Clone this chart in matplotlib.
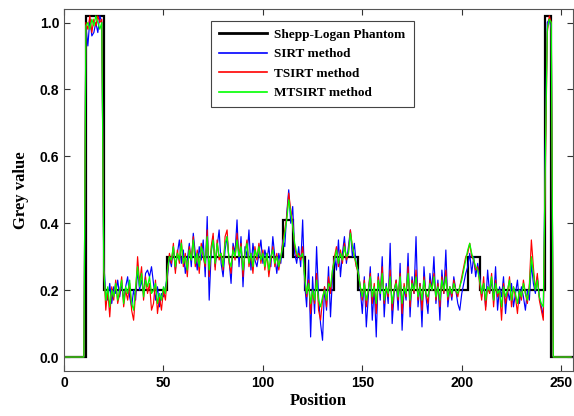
import numpy as np
import matplotlib
matplotlib.use("Agg")
import matplotlib.pyplot as plt

# Shepp-Logan phantom profile (step edges and levels)
phantom_edges = [0, 11, 20, 52, 110, 115, 121, 136, 148, 203, 209, 242, 245, 256]
phantom_levels = [0.0, 1.02, 0.2, 0.3, 0.41, 0.3, 0.2, 0.3, 0.2, 0.3, 0.2, 1.02, 0.0]

# reconstructed profiles, positions 0..255
sirt = [
    0.0, 0.0, 0.0, 0.0, 0.0, 0.0, 0.0, 0.0, 0.0, 0.0, 0.0,
    0.99, 0.93, 1.01, 0.96, 0.97, 1.00, 0.97, 1.02, 1.00,
    0.28, 0.19, 0.17, 0.22, 0.16, 0.21, 0.19, 0.23, 0.18, 0.22,
    0.17, 0.21, 0.24, 0.18, 0.15, 0.20, 0.17, 0.26, 0.20, 0.23,
    0.19, 0.25, 0.26, 0.24, 0.27, 0.22, 0.17, 0.21, 0.15, 0.19,
    0.18, 0.21,
    0.24, 0.30, 0.27, 0.33, 0.26, 0.31, 0.35, 0.28, 0.32, 0.25,
    0.29, 0.34, 0.27, 0.37, 0.31, 0.26, 0.33, 0.29, 0.35, 0.24,
    0.42, 0.17, 0.31, 0.36, 0.27, 0.33, 0.38, 0.28, 0.24, 0.32,
    0.36, 0.29, 0.22, 0.34, 0.31, 0.41, 0.27, 0.36, 0.21, 0.33,
    0.30, 0.38, 0.26, 0.34, 0.29, 0.27, 0.31, 0.35, 0.28, 0.32,
    0.29, 0.33, 0.27, 0.36, 0.30, 0.25, 0.31, 0.28,
    0.35, 0.33, 0.43, 0.50, 0.40, 0.45, 0.31, 0.28, 0.33, 0.27, 0.41,
    0.22, 0.15, 0.29, 0.06, 0.24, 0.13, 0.33, 0.18, 0.10, 0.05,
    0.21, 0.14, 0.27, 0.12, 0.24,
    0.30, 0.26, 0.35, 0.24, 0.31, 0.36, 0.28, 0.33, 0.38, 0.30, 0.34, 0.27,
    0.26, 0.20, 0.13, 0.24, 0.09, 0.18, 0.27, 0.11, 0.21, 0.06,
    0.25, 0.17, 0.30, 0.12, 0.22, 0.16, 0.34, 0.10, 0.19, 0.23,
    0.14, 0.28, 0.08, 0.21, 0.17, 0.31, 0.12, 0.24, 0.19, 0.36,
    0.15, 0.22, 0.09, 0.27, 0.18, 0.13, 0.25, 0.20, 0.30, 0.16,
    0.23, 0.11, 0.26, 0.19, 0.32, 0.15, 0.21, 0.17, 0.24, 0.20,
    0.16, 0.14, 0.19, 0.22, 0.25,
    0.27, 0.31, 0.25, 0.30, 0.24, 0.28,
    0.24, 0.18, 0.22, 0.15, 0.26, 0.19, 0.23, 0.17, 0.27, 0.14,
    0.21, 0.18, 0.24, 0.13, 0.20, 0.17, 0.22, 0.15, 0.19, 0.23,
    0.16, 0.21, 0.18, 0.14, 0.20, 0.17, 0.28, 0.22, 0.19, 0.24,
    0.18, 0.15, 0.12,
    0.62, 1.00, 1.01, 0.98,
    0.0, 0.0, 0.0, 0.0, 0.0, 0.0, 0.0, 0.0, 0.0, 0.0,
]

tsirt = [
    0.0, 0.0, 0.0, 0.0, 0.0, 0.0, 0.0, 0.0, 0.0, 0.0, 0.0,
    1.00, 0.98, 1.02, 0.97, 1.01, 0.99, 1.02, 1.00, 1.01,
    0.27, 0.14, 0.20, 0.12, 0.21, 0.17, 0.23, 0.16, 0.19, 0.24,
    0.15, 0.20, 0.17, 0.22, 0.14, 0.11, 0.19, 0.30, 0.22, 0.27,
    0.17, 0.24, 0.19, 0.22, 0.14, 0.16, 0.23, 0.13, 0.18, 0.14,
    0.20, 0.17,
    0.25, 0.31, 0.28, 0.34, 0.25, 0.32, 0.28, 0.35, 0.27, 0.31,
    0.24, 0.33, 0.29, 0.36, 0.27, 0.32, 0.25, 0.34, 0.30, 0.27,
    0.38, 0.24, 0.33, 0.37, 0.26, 0.35, 0.29, 0.31, 0.26, 0.36,
    0.38, 0.28, 0.25, 0.33, 0.29, 0.37, 0.30, 0.34, 0.24, 0.31,
    0.35, 0.27, 0.31, 0.25, 0.33, 0.29, 0.34, 0.28, 0.32, 0.26,
    0.31, 0.24, 0.29, 0.33, 0.27, 0.31, 0.26, 0.30,
    0.34, 0.38, 0.42, 0.49, 0.44, 0.40, 0.33, 0.30, 0.31, 0.29, 0.33,
    0.24, 0.18, 0.23, 0.13, 0.20, 0.16, 0.25, 0.14, 0.11, 0.17,
    0.21, 0.15, 0.24, 0.19, 0.26,
    0.30, 0.33, 0.27, 0.32, 0.28, 0.34, 0.29, 0.31, 0.38, 0.33, 0.30, 0.27,
    0.25, 0.21, 0.17, 0.23, 0.15, 0.20, 0.25, 0.16, 0.22, 0.13,
    0.24, 0.19, 0.27, 0.16, 0.21, 0.18, 0.26, 0.14, 0.20, 0.23,
    0.17, 0.25, 0.13, 0.22, 0.18, 0.27, 0.15, 0.23, 0.19, 0.26,
    0.17, 0.22, 0.14, 0.24, 0.19, 0.16, 0.23, 0.20, 0.25, 0.17,
    0.22, 0.15, 0.24, 0.19, 0.26, 0.17, 0.21, 0.18, 0.23, 0.20,
    0.18, 0.21, 0.24, 0.27, 0.30,
    0.31, 0.34, 0.30, 0.29, 0.26, 0.27,
    0.22, 0.17, 0.24, 0.14, 0.21, 0.19, 0.25, 0.15, 0.23, 0.18,
    0.20, 0.11, 0.22, 0.16, 0.19, 0.24, 0.15, 0.21, 0.18, 0.13,
    0.20, 0.17, 0.23, 0.19, 0.16, 0.22, 0.35, 0.27, 0.20, 0.25,
    0.17, 0.14, 0.11,
    0.55, 0.97, 1.02, 1.00,
    0.0, 0.0, 0.0, 0.0, 0.0, 0.0, 0.0, 0.0, 0.0, 0.0,
]

mtsirt = [
    0.0, 0.0, 0.0, 0.0, 0.0, 0.0, 0.0, 0.0, 0.0, 0.0, 0.0,
    0.99, 1.00, 0.98, 1.01, 0.99, 1.02, 1.00, 0.98, 1.00,
    0.26, 0.17, 0.21, 0.15, 0.20, 0.18, 0.22, 0.17, 0.20, 0.23,
    0.16, 0.21, 0.19, 0.23, 0.16, 0.14, 0.21, 0.27, 0.21, 0.25,
    0.18, 0.23, 0.21, 0.24, 0.19, 0.20, 0.22, 0.16, 0.19, 0.17,
    0.21, 0.19,
    0.26, 0.30, 0.29, 0.33, 0.27, 0.31, 0.29, 0.34, 0.28, 0.30,
    0.26, 0.32, 0.29, 0.35, 0.28, 0.31, 0.27, 0.33, 0.31, 0.28,
    0.36, 0.26, 0.32, 0.35, 0.28, 0.34, 0.30, 0.31, 0.27, 0.34,
    0.36, 0.29, 0.27, 0.32, 0.30, 0.35, 0.30, 0.33, 0.26, 0.31,
    0.34, 0.28, 0.31, 0.27, 0.32, 0.30, 0.33, 0.29, 0.31, 0.27,
    0.31, 0.26, 0.30, 0.32, 0.28, 0.30, 0.27, 0.30,
    0.33, 0.37, 0.41, 0.47, 0.43, 0.39, 0.34, 0.31, 0.30, 0.30, 0.31,
    0.24, 0.19, 0.22, 0.16, 0.20, 0.17, 0.23, 0.17, 0.15, 0.18,
    0.20, 0.17, 0.22, 0.21, 0.26,
    0.29, 0.32, 0.28, 0.31, 0.29, 0.33, 0.30, 0.31, 0.37, 0.33, 0.30, 0.28,
    0.25, 0.21, 0.18, 0.22, 0.17, 0.20, 0.24, 0.18, 0.21, 0.16,
    0.23, 0.19, 0.25, 0.17, 0.21, 0.19, 0.24, 0.16, 0.20, 0.22,
    0.18, 0.24, 0.16, 0.21, 0.19, 0.25, 0.17, 0.22, 0.20, 0.24,
    0.18, 0.21, 0.17, 0.23, 0.19, 0.18, 0.22, 0.20, 0.24, 0.18,
    0.21, 0.17, 0.23, 0.20, 0.24, 0.18, 0.21, 0.19, 0.22, 0.20,
    0.19, 0.21, 0.23, 0.26, 0.29,
    0.32, 0.34, 0.31, 0.29, 0.27, 0.26,
    0.23, 0.19, 0.22, 0.17, 0.21, 0.20, 0.24, 0.17, 0.22, 0.19,
    0.20, 0.15, 0.21, 0.18, 0.20, 0.23, 0.17, 0.21, 0.19, 0.16,
    0.20, 0.18, 0.22, 0.19, 0.17, 0.21, 0.30, 0.25, 0.20, 0.23,
    0.18, 0.16, 0.15,
    0.58, 0.98, 1.01, 1.00,
    0.0, 0.0, 0.0, 0.0, 0.0, 0.0, 0.0, 0.0, 0.0, 0.0,
]

positions = np.arange(len(sirt))

serif = ["Liberation Serif", "DejaVu Serif"]
sans = ["Liberation Sans", "DejaVu Sans"]

fig = plt.figure(figsize=(5.74, 4.16), dpi=100)
ax = fig.add_axes([0.1115, 0.108, 0.887, 0.870])

ax.stairs(phantom_levels, phantom_edges, color="black", linewidth=1.6,
          baseline=None, label="Shepp-Logan Phantom")
ax.plot(positions, sirt, color="#0000ff", linewidth=0.85, label="SIRT method")
ax.plot(positions, tsirt, color="#ff0000", linewidth=0.85, label="TSIRT method")
ax.plot(positions, mtsirt, color="#00ff00", linewidth=0.9, label="MTSIRT method")

ax.set_xlim(0, 256)
ax.set_ylim(-0.042, 1.04)
ax.set_xticks([0, 50, 100, 150, 200, 250])
ax.set_yticks([0.0, 0.2, 0.4, 0.6, 0.8, 1.0])
ax.set_yticklabels(["0.0", "0.2", "0.4", "0.6", "0.8", "1.0"])
ax.tick_params(direction="in", top=True, right=True, length=4, width=0.8,
               colors="#333333", labelcolor="black")
for lab in ax.get_xticklabels() + ax.get_yticklabels():
    lab.set_family(sans)
    lab.set_fontweight("bold")
    lab.set_fontsize(10)
for sp in ax.spines.values():
    sp.set_color("#555555")
    sp.set_linewidth(0.8)

ax.set_xlabel("Position", family=serif, fontweight="bold", fontsize=12, labelpad=2)
ax.set_ylabel("Grey value", family=serif, fontweight="bold", fontsize=12, labelpad=8)

leg = ax.legend(loc="upper left", bbox_to_anchor=(0.289, 0.968), borderaxespad=0,
                prop={"family": serif, "weight": "bold", "size": 9.5},
                fancybox=False, framealpha=1, edgecolor="#444444",
                handlelength=3.6, handletextpad=0.6, labelspacing=0.55,
                borderpad=0.6)
leg.get_frame().set_linewidth(0.8)
for h in leg.get_lines():
    h.set_linewidth(1.2)
leg.legend_handles[0].set_linewidth(2.0)

fig.savefig("out.png", dpi=100)
